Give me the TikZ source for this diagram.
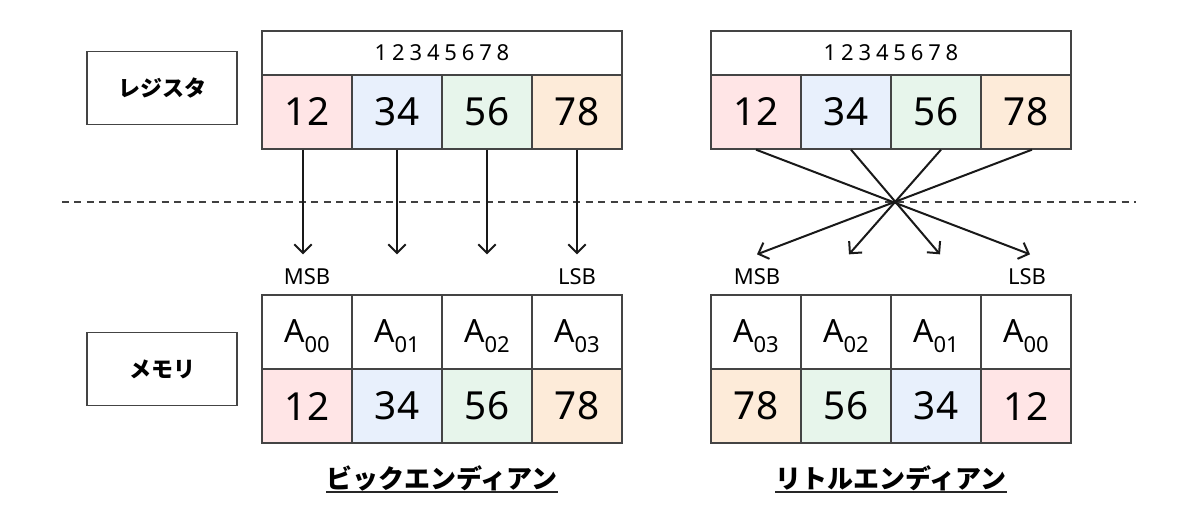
\documentclass[tikz,border=0pt]{standalone}
\usepackage{fontspec}
\setmainfont{Noto Sans}
\newfontfamily\jp{Noto Sans CJK JP}
\newfontfamily\hdrfont{Noto Sans}[LetterSpace=22]
\usetikzlibrary{arrows.meta}
\definecolor{cpink}{HTML}{FFE5E6}
\definecolor{cblue}{HTML}{E8F0FC}
\definecolor{cgreen}{HTML}{E7F5EB}
\definecolor{corange}{HTML}{FDEBD9}
\definecolor{bord}{HTML}{444444}
\newcommand{\Asub}[1]{A{\fontsize{16.5}{17}\selectfont\raisebox{-7.5pt}{#1}}}
\begin{document}
\begin{tikzpicture}[x=0.75pt,y=-0.75pt,
  cell/.style={draw=bord, line width=1pt, minimum width=67.5pt, minimum height=55.5pt, inner sep=0pt, font=\fontsize{29}{30}\selectfont},
  acell/.style={cell, font=\fontsize{24}{26}\selectfont, text height=20pt, text depth=5pt},
  hdr/.style={draw=bord, line width=1pt, minimum width=270pt, minimum height=33pt, inner sep=0pt, font=\hdrfont\fontsize{16.5}{18}\selectfont},
  lbox/.style={draw=bord, line width=1pt, minimum width=112.5pt, minimum height=55pt, inner sep=0pt, font=\jp\bfseries\fontsize{16.5}{18}\selectfont},
  sb/.style={font=\fontsize{16.5}{18}\selectfont, inner sep=0pt},
  title/.style={font=\jp\bfseries\fontsize{19.5}{21}\selectfont, inner sep=0pt},
  arr/.style={draw=black!90, line width=1.5pt, -{Straight Barb[length=6.5pt, width=13pt, line width=1.5pt]}},
  ul/.style={draw=black!85, line width=1.5pt}]
\path[use as bounding box, fill=white] (0,0) rectangle (1200,525);

% dashed separator
\coordinate (d1) at (62,202);
\coordinate (d2) at (1136,202);
\draw[line width=0.9pt, draw=black!75, dash pattern=on 5.25pt off 4.1pt] (d1) -- (d2);

% labels
\node[lbox] (lreg) at (162,88) {レジスタ};
\node[lbox] (lmem) at (162,369) {メモリ};

% ---------- left: big endian ----------
\node[hdr] (hl) at (442,53) {12345678};
\node[cell, fill=cpink]   (rl1) at (307,112) {12};
\node[cell, fill=cblue]   (rl2) at (397,112) {34};
\node[cell, fill=cgreen]  (rl3) at (487,112) {56};
\node[cell, fill=corange] (rl4) at (577,112) {78};

\node[acell] (al1) at (307,332) {\Asub{00}};
\node[acell] (al2) at (397,332) {\Asub{01}};
\node[acell] (al3) at (487,332) {\Asub{02}};
\node[acell] (al4) at (577,332) {\Asub{03}};
\node[cell, fill=cpink]   (ml1) at (307,406) {12};
\node[cell, fill=cblue]   (ml2) at (397,406) {34};
\node[cell, fill=cgreen]  (ml3) at (487,406) {56};
\node[cell, fill=corange] (ml4) at (577,406) {78};

\draw[arr] ([xshift=-3pt]rl1.south) -- ([xshift=-3pt,yshift=30pt]al1.north);
\draw[arr] (rl2.south) -- ([yshift=30pt]al2.north);
\draw[arr] (rl3.south) -- ([yshift=30pt]al3.north);
\draw[arr] (rl4.south) -- ([yshift=30pt]al4.north);

\node[sb] (msbl) at (307,277) {MSB};
\node[sb] (lsbl) at (577,277) {LSB};

\node[title] (tl) at (442,478) {ビックエンディアン};
\draw[ul] ([yshift=-10.5pt]tl.west) -- ([yshift=-10.5pt]tl.east);

% ---------- right: little endian ----------
\node[hdr] (hr) at (891,53) {12345678};
\node[cell, fill=cpink]   (rr1) at (756,112) {12};
\node[cell, fill=cblue]   (rr2) at (846,112) {34};
\node[cell, fill=cgreen]  (rr3) at (936,112) {56};
\node[cell, fill=corange] (rr4) at (1026,112) {78};

\node[acell] (ar1) at (756,332) {\Asub{03}};
\node[acell] (ar2) at (846,332) {\Asub{02}};
\node[acell] (ar3) at (936,332) {\Asub{01}};
\node[acell] (ar4) at (1026,332) {\Asub{00}};
\node[cell, fill=corange] (mr1) at (756,406) {78};
\node[cell, fill=cgreen]  (mr2) at (846,406) {56};
\node[cell, fill=cblue]   (mr3) at (936,406) {34};
\node[cell, fill=cpink]   (mr4) at (1026,406) {12};

\draw[arr] (rr1.south) -- ([xshift=3pt,yshift=30pt]ar4.north);
\draw[arr] ([xshift=3.75pt]rr2.south) -- ([xshift=3pt,yshift=30pt]ar3.north);
\draw[arr] ([xshift=3.75pt]rr3.south) -- ([xshift=2.25pt,yshift=30pt]ar2.north);
\draw[arr] ([xshift=4.5pt]rr4.south) -- ([xshift=0.75pt,yshift=30pt]ar1.north);

\node[sb] (msbr) at (757,277) {MSB};
\node[sb] (lsbr) at (1027,277) {LSB};

\node[title] (tr) at (891,478) {リトルエンディアン};
\draw[ul] ([yshift=-10.5pt]tr.west) -- ([yshift=-10.5pt]tr.east);
\end{tikzpicture}
\end{document}
